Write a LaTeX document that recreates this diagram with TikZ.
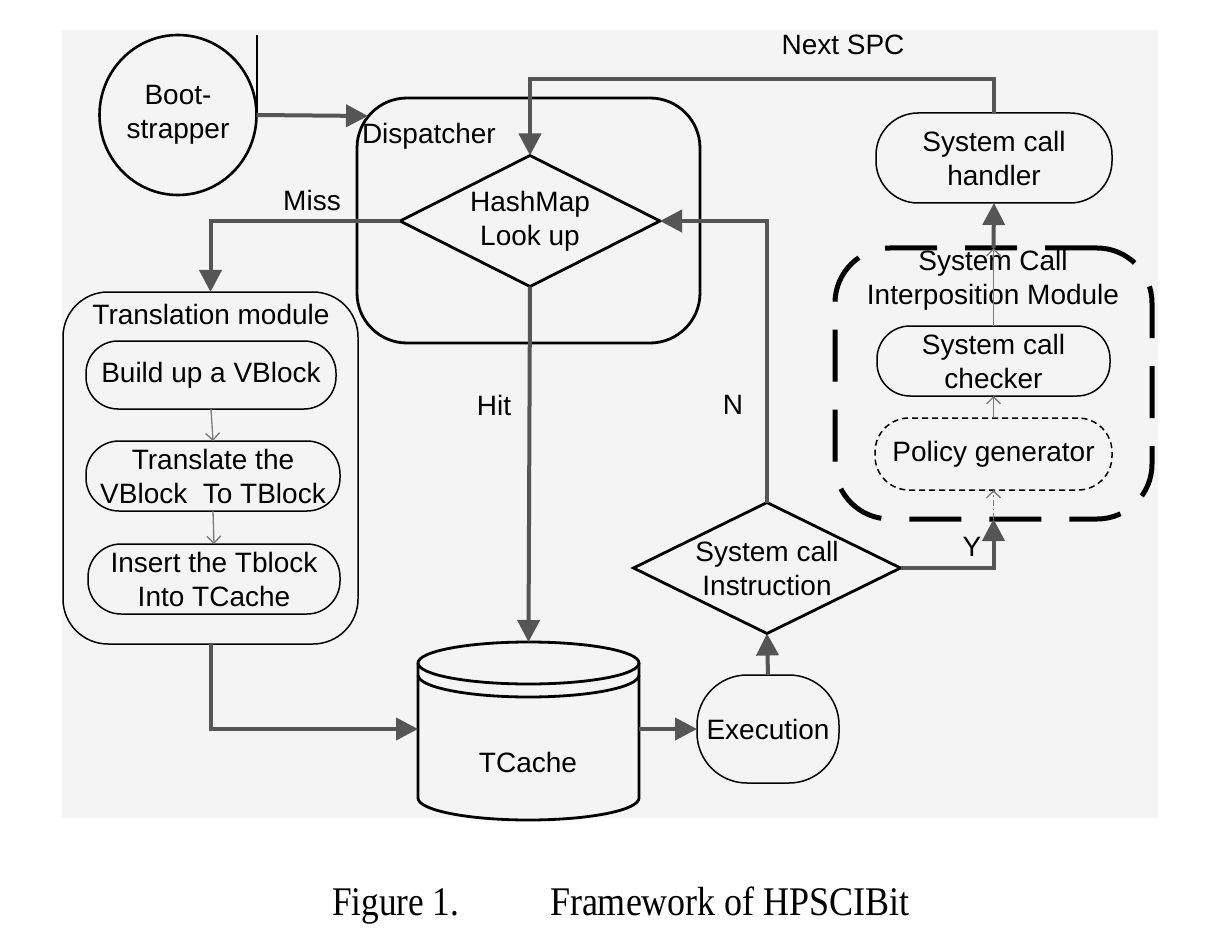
\documentclass[tikz,border=0pt]{standalone}
\usepackage{fontspec}
\setmainfont{Liberation Sans}
\newfontfamily\capfont{Liberation Serif}
\usetikzlibrary{shapes.geometric,arrows.meta}
\definecolor{conn}{HTML}{555555}
\definecolor{bgc}{HTML}{F4F4F4}
\definecolor{thinc}{HTML}{7A7A7A}
\begin{document}
\begin{tikzpicture}[x=1pt,y=-1pt,
  every node/.style={font=\fontsize{28}{34}\selectfont, inner sep=0pt, outer sep=0pt, align=center},
  pill/.style={draw, line width=1.5pt, rectangle, rounded corners=#1},
  bigbox/.style={draw, line width=#1, rectangle},
  flow/.style={draw=conn, line width=4pt, -{Triangle[length=22pt,width=22pt]}},
  thinarrow/.style={draw=thinc, line width=1.3pt, -{Straight Barb[length=7pt,width=14pt]}},
  dia/.style={diamond, draw, line width=2.8pt},
  captext/.style={font=\capfont\fontsize{36}{40}\selectfont, anchor=base west}
]
\useasboundingbox (0,0) rectangle (1224,944);
\fill[bgc] (62,30) rectangle (1158,818);

% Bootstrapper
\node[ellipse, draw, line width=2.6pt, minimum width=157pt, minimum height=160pt] (boot) at (178,115) {Boot-\\strapper};
\coordinate (bootline) at (257,35);
\draw[line width=2.2pt] (257,115) -- (bootline);

% Dispatcher
\node[bigbox=2.8pt, rounded corners=50pt, minimum width=343pt, minimum height=245pt] (disp) at (528.5,220.5) {};
\node[anchor=west] (displbl) at (362,136) {Dispatcher};
\coordinate (dispin) at (368,116);
\node[dia, minimum width=260pt, minimum height=131pt] (hash) at (530,221) {};
\node (hashtxt) at (hash) {HashMap\\Look up};

% Translation module
\node[bigbox=1.5pt, rounded corners=45pt, minimum width=295pt, minimum height=352pt] (trans) at (210.5,468) {};
\node (translbl) at (211,314) {Translation module};
\node[pill=32pt, minimum width=250pt, minimum height=68pt] (build) at (211,375) {Build up a VBlock};
\node[pill=33pt, minimum width=254pt, minimum height=70pt] (transl) at (213,476) {Translate the\\VBlock\ \ To TBlock};
\node[pill=33pt, minimum width=252pt, minimum height=70pt] (insert) at (214,579) {Insert the Tblock\\Into TCache};

% TCache cylinder
\node[minimum width=221pt, minimum height=174pt] (tc) at (528.5,729) {};
\draw[line width=2.8pt] (528.5,663) ellipse [x radius=110.5pt, y radius=21pt];
\draw[line width=2.8pt] (418,663) -- (418,798) arc[start angle=180, end angle=360, x radius=110.5pt, y radius=22pt] -- (639,663);
\draw[line width=2.8pt] (418,675) arc[start angle=180, end angle=360, x radius=110.5pt, y radius=22pt];
\node (tctxt) at (528,762) {TCache};

% Execution
\node[pill=50pt, minimum width=142pt, minimum height=108pt] (exec) at (768,729) {Execution};

% System call instruction
\node[dia, minimum width=267pt, minimum height=131pt] (sys) at (767,568) {};
\node (systxt) at (767,568) {System call\\Instruction};

% Right side
\node[pill=42pt, minimum width=236pt, minimum height=90pt] (handler) at (994,158) {System call\\handler};
\node[draw, line width=5pt, dash pattern=on 52pt off 28pt, rounded corners=55pt, minimum width=317pt, minimum height=271pt] (mod) at (993.5,383.5) {};
\node (modlbl) at (993,280) {System Call\\Interposition Module};
\node[pill=33pt, minimum width=233pt, minimum height=70pt] (checker) at (993.5,361) {System call\\checker};
\node[pill=34pt, dash pattern=on 6pt off 4pt, minimum width=237pt, minimum height=72pt] (policy) at (993.5,454) {Policy generator};

% Connectors
\draw[flow] (boot.east) -- (dispin);
\draw[flow] (handler.north) -- ++(0,-34) -| (hash.north);
\draw[flow] (hash.west) -| (trans.north);
\draw[flow] (hash.south) -- (tc.north);
\draw[flow] (trans.south) |- (tc.west);
\draw[flow] (tc.east) -- (exec.west);
\draw[flow] (exec.north) -- (sys.south);
\draw[flow] (sys.north) |- (hash.east);
\draw[flow] (sys.east) -| (mod.south);
\draw[thinarrow] (build.south) -- (transl.north);
\draw[thinarrow] (transl.south) -- (insert.north);
\draw[thinarrow, dash pattern=on 6pt off 3pt on 1.5pt off 3pt] (mod.south) -- (policy.south);
\draw[thinarrow] (policy.north) -- (checker.south);
\draw[thinarrow] (checker.north) -- (mod.north);
\draw[flow] (mod.north) -- (handler.south);

% Labels
\node (lnext) at (843,45) {Next SPC};
\node (lmiss) at (312,200) {Miss};
\node (lhit) at (494,405) {Hit};
\node (ln) at (733,405) {N};
\node (ly) at (972,547) {Y};

% Caption
\node[captext] (cap1) at (332,915) {\scalebox{0.98}[1.13]{Figure 1.}};
\node[captext] (cap2) at (550,915) {\scalebox{1}[1.13]{Framework of HPSCIBit}};
\end{tikzpicture}
\end{document}
